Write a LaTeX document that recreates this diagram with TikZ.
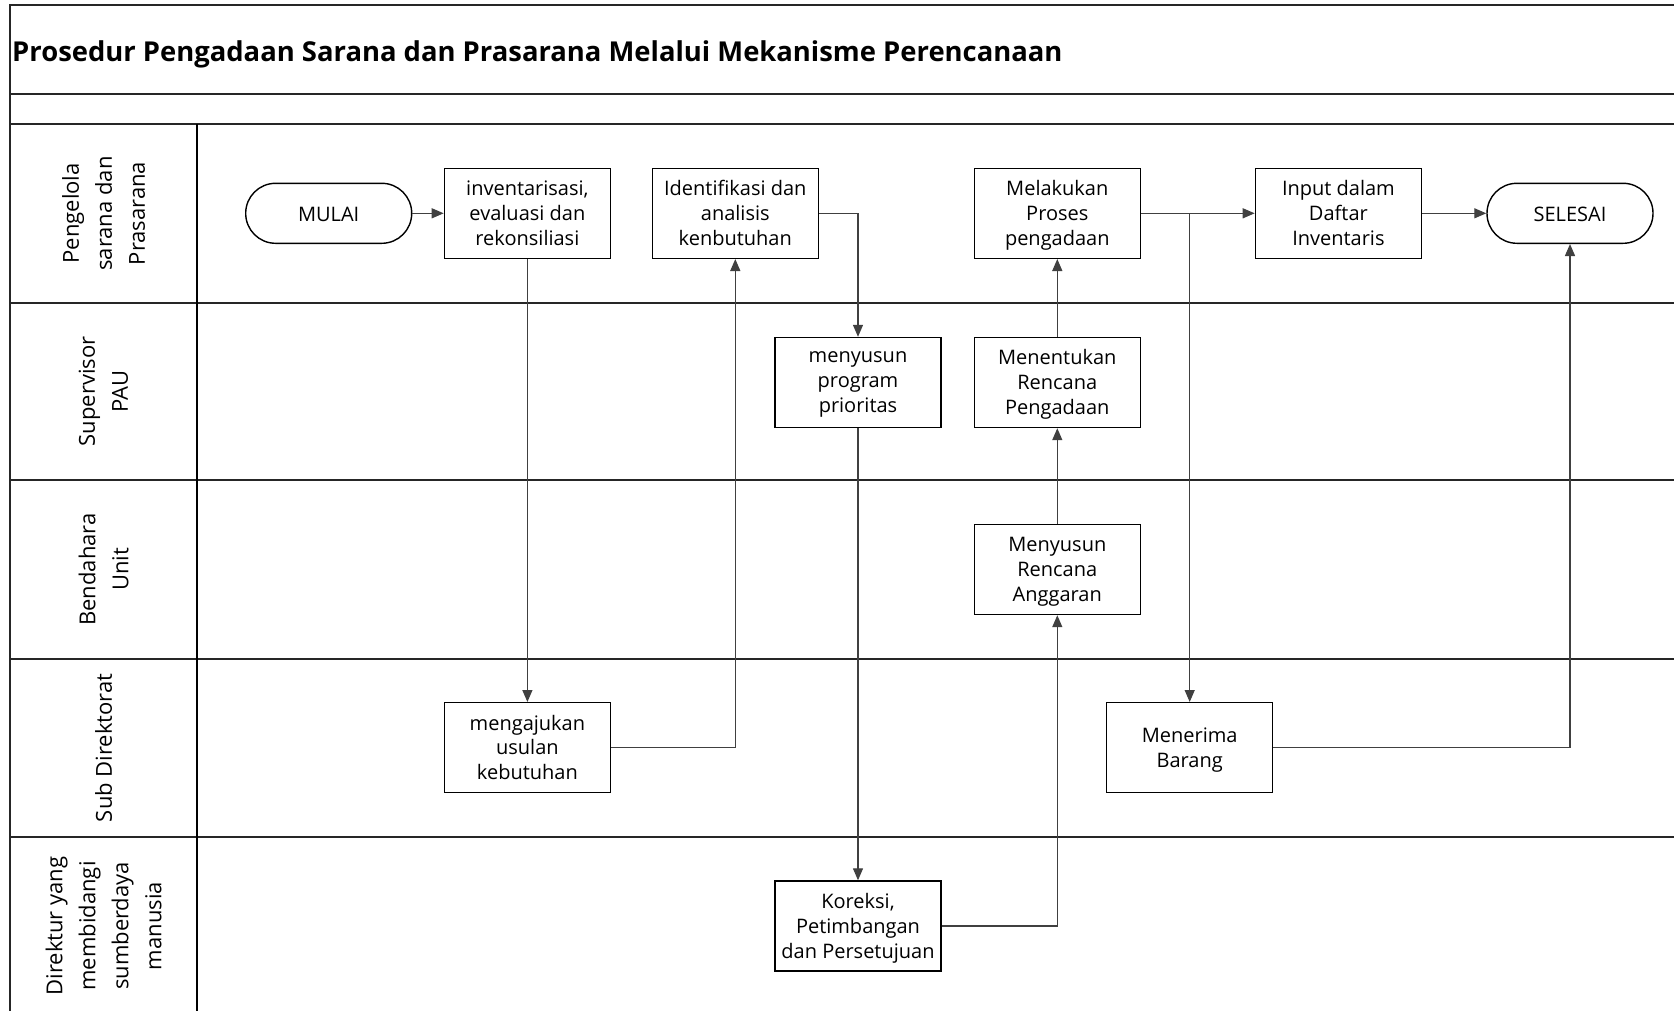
\documentclass[tikz,border=0pt]{standalone}
\usepackage{fontspec}
\setmainfont{Open Sans}
\usetikzlibrary{arrows.meta}
\begin{document}
\begin{tikzpicture}[x=1pt,y=-1pt,
 lane/.style={line width=2.2pt, draw=black!85},
 boxtxt/.style={align=center, inner sep=0pt, font=\fontsize{20}{24.8}\selectfont, execute at begin node=\strut, execute at end node=\strut, yshift=-3.4pt},
 proc/.style={draw=black, line width=1.4pt, minimum width=166pt, minimum height=90pt, inner sep=0pt, label={[boxtxt]center:{#1}}},
 term/.style={proc={#1}, minimum height=60pt, rounded corners=29.9pt},
 lbl/.style={rotate=90, align=center, inner sep=0pt, font=\fontsize{22}{33}\selectfont},
 conn/.style={line width=1.3pt, draw=black!75, -{Triangle[length=12pt,width=10pt]}},
 ]
\useasboundingbox (0,0) rectangle (1674,1010);
\clip (0,0) rectangle (1674,1010);
% frame
\draw[lane] (10,1020) -- (10,5) -- (1680,5);
\draw[lane] (10,94) -- (1680,94);
\draw[lane] (10,124) -- (1680,124);
\foreach \y in {302.7,480.3,658.7,837} \draw[lane] (10,\y) -- (1680,\y);
\draw[line width=1.6pt] (197,124) -- (197,1020);
% title
\node[anchor=base west, inner sep=0pt, font=\fontsize{27.4}{32}\bfseries\selectfont] (title) at (12,61) {Prosedur Pengadaan Sarana dan Prasarana Melalui Mekanisme Perencanaan};
% lane labels
\node[lbl] (L1) at (103.5,213.4) {Pengelola\\sarana dan\\Prasarana};
\node[lbl] (L2) at (103.5,391.5) {Supervisor\\PAU};
\node[lbl] (L3) at (103.5,569.5) {Bendahara\\Unit};
\node[lbl] (L4) at (103.5,747.8) {Sub Direktorat};
\node[lbl] (L5) at (103.5,926) {Direktur yang\\membidangi\\sumberdaya\\manusia};
% nodes
\node[term={MULAI}] (mulai) at (328.7,213.3) {};
\node[proc={inventarisasi,\\evaluasi dan\\rekonsiliasi}] (inv) at (527.4,213.3) {};
\node[proc={Identifikasi dan\\analisis\\kenbutuhan}] (ident) at (735.3,213.3) {};
\node[proc={Melakukan\\Proses\\pengadaan}] (melak) at (1057.3,213.3) {};
\node[proc={Input dalam\\Daftar\\Inventaris}] (input) at (1338.4,213.3) {};
\node[term={SELESAI}] (selesai) at (1570,213.3) {};
\node[proc={menyusun\\program\\prioritas}] (menyusun) at (858,382.5) {};
\node[proc={Menentukan\\Rencana\\Pengadaan}] (menentukan) at (1057.3,382.5) {};
\node[proc={Menyusun\\Rencana\\Anggaran}] (anggaran) at (1057.3,569.5) {};
\node[proc={mengajukan\\usulan\\kebutuhan}] (mengajukan) at (527.4,747.7) {};
\node[proc={Menerima\\Barang}] (menerima) at (1189.7,747.7) {};
\node[proc={Koreksi,\\Petimbangan\\dan Persetujuan}] (koreksi) at (858,926) {};
% connectors
\draw[conn] (mulai) -- (inv);
\draw[conn] (inv.south) -- (mengajukan.north);
\draw[conn] (mengajukan.east) -| (ident.south);
\draw[conn] (ident.east) -| (menyusun.north);
\draw[conn] (menyusun.south) -- (koreksi.north);
\draw[conn] (koreksi.east) -| (anggaran.south);
\draw[conn] (anggaran) -- (menentukan);
\draw[conn] (menentukan) -- (melak);
\draw[conn] (melak) -- (input);
\coordinate (br) at (menerima.north |- melak.east);
\draw[conn] (br) -- (menerima.north);
\draw[conn] (input) -- (selesai);
\draw[conn] (menerima.east) -| (selesai.south);
\end{tikzpicture}
\end{document}
